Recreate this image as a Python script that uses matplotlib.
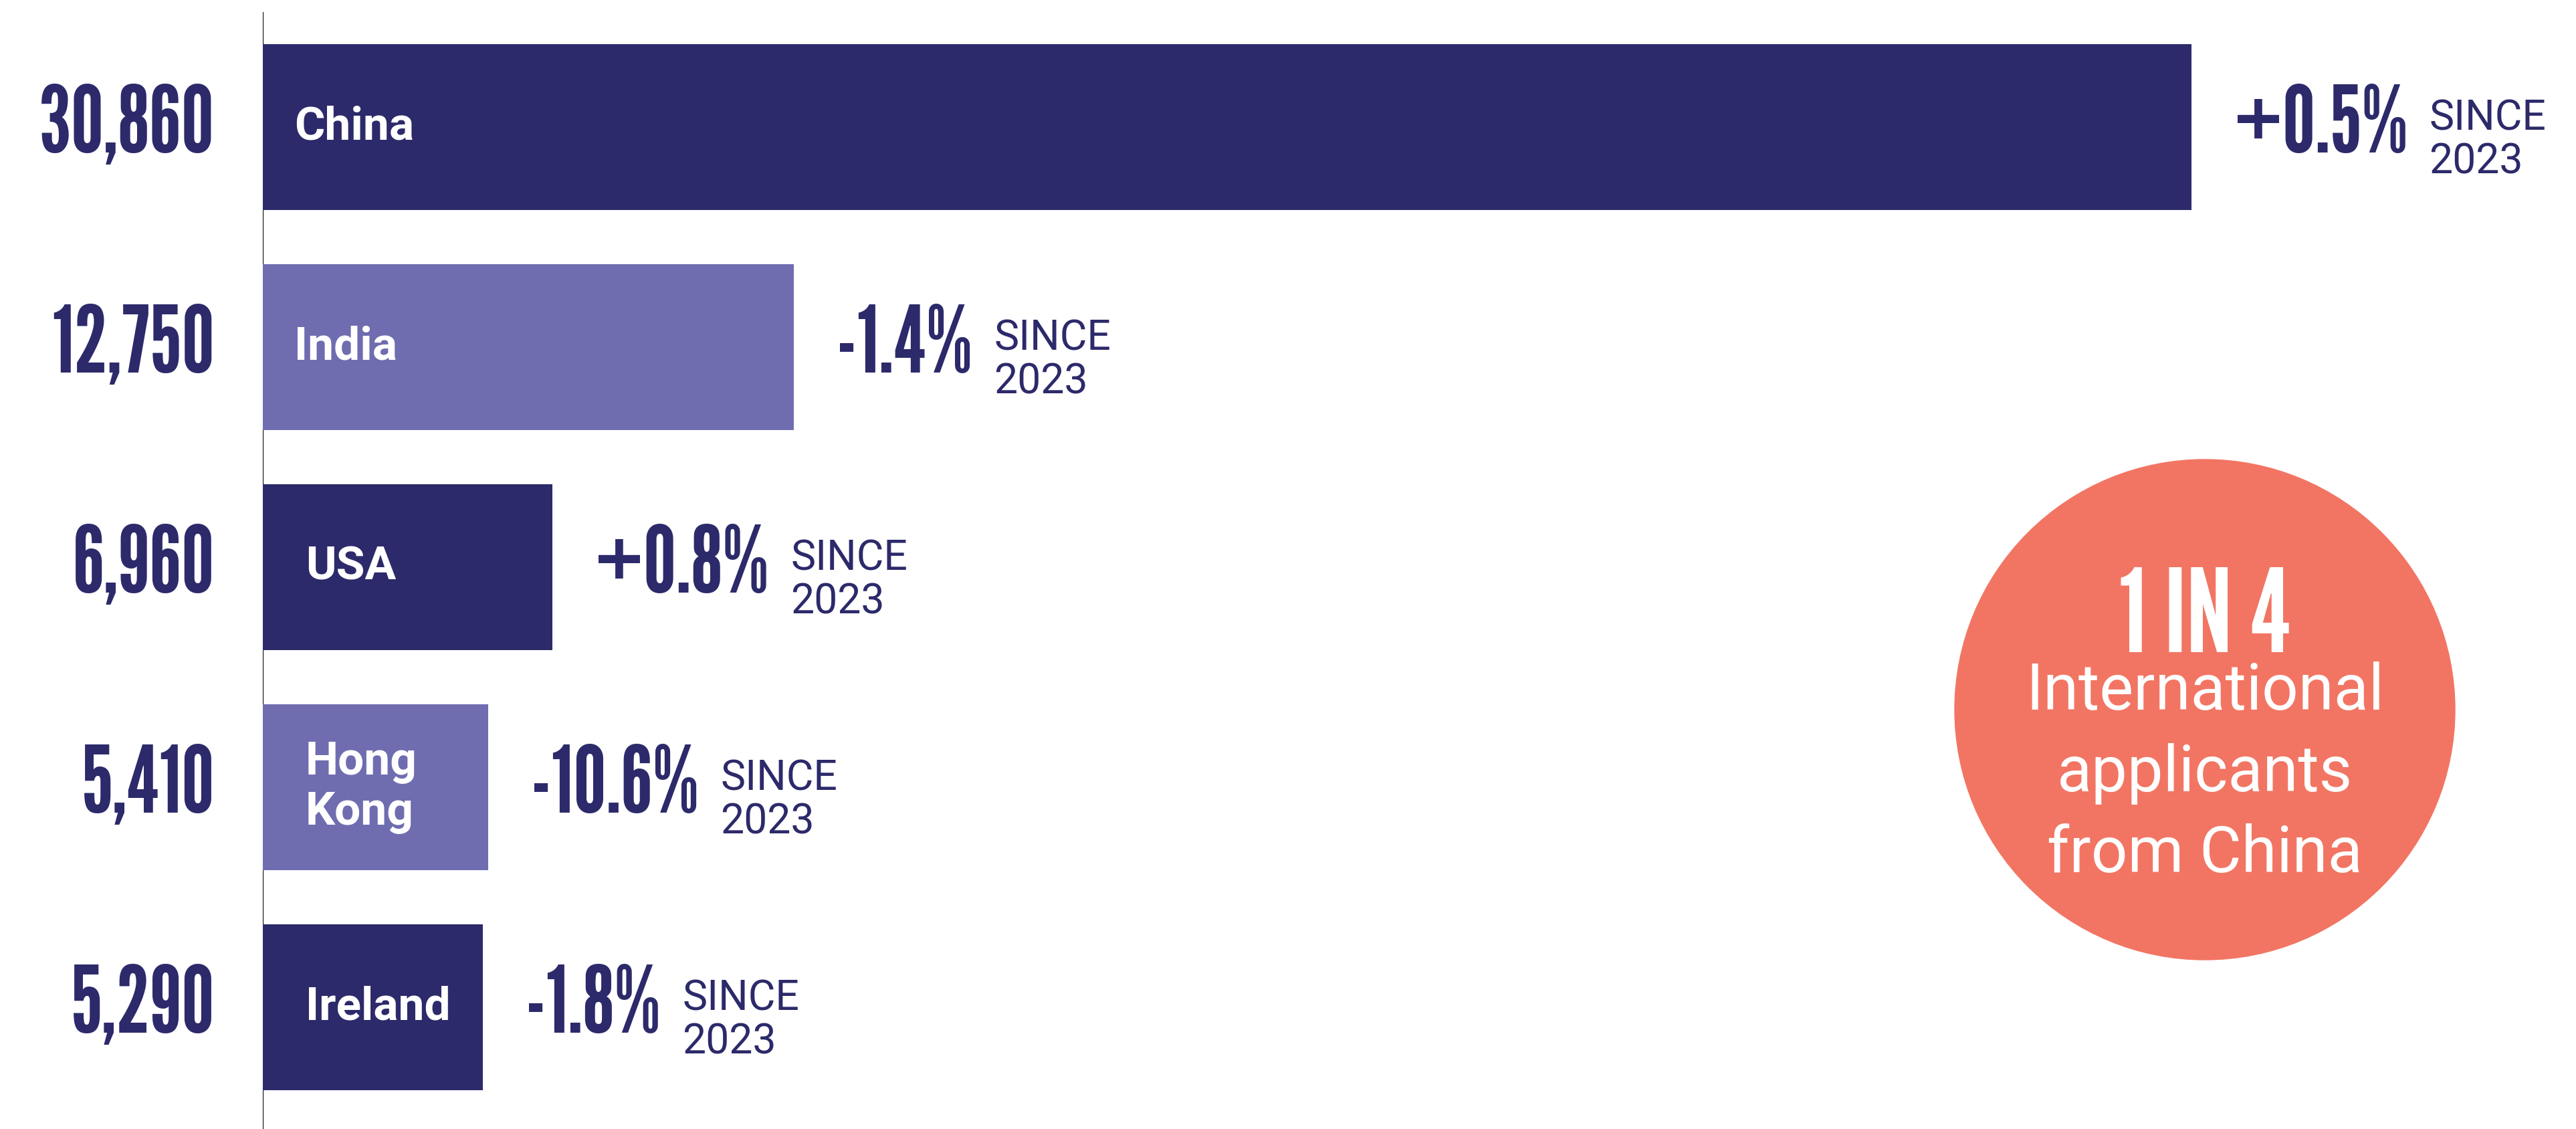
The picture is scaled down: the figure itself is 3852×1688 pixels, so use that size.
import matplotlib
matplotlib.use("Agg")
import matplotlib.pyplot as plt
import numpy as np
from matplotlib.patches import Circle

# ---- data ----
countries = ["China", "India", "USA", "Hong\nKong", "Ireland"]
applicants = [30860, 12750, 6960, 5410, 5290]
change_pct = [0.5, -1.4, 0.8, -10.6, -1.8]
since_label = "SINCE\n2023"
callout_big = "1 IN 4"
callout_text = "International\napplicants\nfrom China"

# ---- style ----
NAVY = "#2C2A6A"
LILAC = "#6F6DB0"
SALMON = "#F27563"
bar_colors = [NAVY, LILAC, NAVY, LILAC, NAVY]
NUM_FONT = ["League Gothic", "Bebas Neue", "Oswald", "DejaVu Sans"]
TXT_FONT = ["Roboto", "DejaVu Sans"]

W, H, DPI = 3852, 1688, 100
fig = plt.figure(figsize=(W / DPI, H / DPI), dpi=DPI)
fig.patch.set_facecolor("white")

axis_x = 393
top_px = 18
ax = fig.add_axes([axis_x / W, 0, 1 - axis_x / W, 1 - top_px / H])

# piecewise scale: the lead bar is drawn on an expanded segment (as in the original graphic)
BREAK, K = 13000.0, 1.865
def fwd(x):
    x = np.asarray(x, dtype=float)
    return np.where(x <= BREAK, x, BREAK + (x - BREAK) * K)
def inv(t):
    t = np.asarray(t, dtype=float)
    return np.where(t <= BREAK, t, BREAK + (t - BREAK) / K)
ax.set_xscale("function", functions=(fwd, inv))

px_per_unit = 0.06227
ax.set_xlim(0, float(inv((W - axis_x) / px_per_unit)))
ax.set_ylim(4.553, -0.523)

y = np.arange(len(countries))
bars = ax.barh(y, applicants, height=0.754, color=bar_colors, zorder=3)

ax.axvline(0, color="black", lw=1.5, zorder=1)
for s in ax.spines.values():
    s.set_visible(False)
ax.set_xticks([])
ax.set_yticks([])
ax.patch.set_alpha(0)

fig.canvas.draw()
for i, (c, v, p) in enumerate(zip(countries, applicants, change_pct)):
    # value label left of axis
    ax.annotate(f"{v:,}", xy=(0, i), xytext=(-72, 0), textcoords="offset pixels",
                ha="right", va="center", fontsize=100, color=NAVY,
                family=NUM_FONT, annotation_clip=False)
    # country label inside bar
    bar_px = ax.transData.transform((v, i))[0] - ax.transData.transform((0, i))[0]
    pad = 47 if bar_px > 600 else 64
    ax.annotate(c, xy=(0, i), xytext=(pad, 0), textcoords="offset pixels",
                ha="left", va="center", fontsize=50, color="white",
                family=TXT_FONT, weight="bold", linespacing=1.2, zorder=5)
    # change label
    t = ax.annotate(f"{p:+.1f}%", xy=(v, i), xytext=(64, 0), textcoords="offset pixels",
                    ha="left", va="center", fontsize=100, color=NAVY,
                    family=NUM_FONT, annotation_clip=False)
    ax.annotate(since_label, xy=(1, 0.5), xycoords=t, xytext=(32, -20),
                textcoords="offset pixels", ha="left", va="center",
                fontsize=45, color=NAVY, family=TXT_FONT, linespacing=1.1,
                annotation_clip=False)

# callout circle
cx, cy, r = 3297, 1061, 374
fig.add_artist(Circle((cx / DPI, (H - cy) / DPI), r / DPI,
                      transform=fig.dpi_scale_trans, color=SALMON, zorder=0))
fig.text(cx / W, (H - 975) / H, callout_big, ha="center", va="baseline",
         fontsize=125, color="white", family=NUM_FONT)
fig.text(cx / W, (H - 1304) / H, callout_text, ha="center", va="baseline",
         multialignment="center", fontsize=69, color="white",
         family=TXT_FONT, linespacing=1.408)

fig.savefig("out.png", dpi=DPI)
